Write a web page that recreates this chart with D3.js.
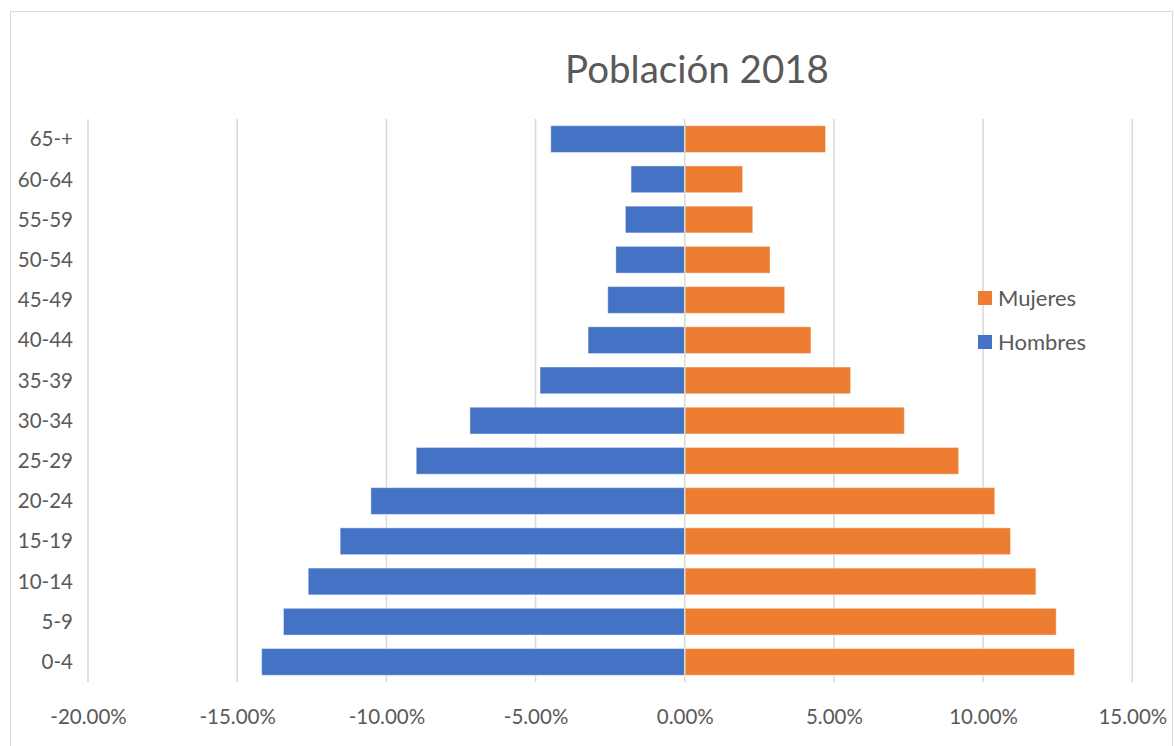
<!DOCTYPE html>
<html>
<head>
<meta charset="utf-8">
<script src="https://cdn.jsdelivr.net/npm/d3@7"></script>
<style>
  html, body { margin: 0; padding: 0; background: #fff; }
  svg { display: block; }
  text { font-family: Lato, "Open Sans", sans-serif; fill: #595959; }
</style>
</head>
<body>
<svg id="chart" width="1174" height="746"></svg>
<script>
const categories = ["0-4","5-9","10-14","15-19","20-24","25-29","30-34","35-39","40-44","45-49","50-54","55-59","60-64","65-+"];
const hombres = [-14.18,-13.45,-12.62,-11.55,-10.52,-9.0,-7.20,-4.85,-3.24,-2.58,-2.31,-1.99,-1.80,-4.49];
const mujeres = [13.06,12.45,11.77,10.92,10.39,9.18,7.36,5.56,4.23,3.35,2.86,2.28,1.94,4.72];
const xTicks = [-20,-15,-10,-5,0,5,10,15];
const title = "Población 2018";
const seriesNames = ["Mujeres","Hombres"];
const colors = {Hombres: "#4472C4", Mujeres: "#ED7D31"};

const svg = d3.select("#chart");

// chart border
svg.append("rect").attr("x", 10.5).attr("y", 11.5).attr("width", 1162).attr("height", 740)
  .attr("fill", "#fff").attr("stroke", "#d9d9d9").attr("stroke-width", 1);

const plotTop = 119, plotBottom = 682;
const x = d3.scaleLinear().domain([-20, 15]).range([88, 1132.3]);
const y = d3.scaleBand().domain(categories.slice().reverse()).range([plotTop, plotBottom])
  .paddingInner(0.334).paddingOuter(0.167);

// gridlines
svg.append("g").selectAll("line").data(xTicks.filter(d => d !== 0)).join("line")
  .attr("x1", d => x(d)).attr("x2", d => x(d))
  .attr("y1", plotTop).attr("y2", plotBottom)
  .attr("stroke", "#d9d9d9").attr("stroke-width", 1.5);

// bars
const rows = categories.map((c, i) => ({c, h: hombres[i], m: mujeres[i]}));
svg.append("g").selectAll("rect").data(rows).join("rect")
  .attr("x", d => x(d.h)).attr("width", d => x(0) - x(d.h))
  .attr("y", d => y(d.c)).attr("height", y.bandwidth())
  .attr("fill", colors.Hombres).attr("stroke", "rgba(255,255,255,0.45)").attr("stroke-width", 1);
svg.append("g").selectAll("rect").data(rows).join("rect")
  .attr("x", x(0)).attr("width", d => x(d.m) - x(0))
  .attr("y", d => y(d.c)).attr("height", y.bandwidth())
  .attr("fill", colors.Mujeres).attr("stroke", "rgba(255,255,255,0.45)").attr("stroke-width", 1);

// zero axis line
svg.append("line").attr("x1", x(0)).attr("x2", x(0)).attr("y1", plotTop).attr("y2", plotBottom)
  .attr("stroke", "#d9d9d9").attr("stroke-width", 1.5);

// x axis labels
const xAxis = d3.axisBottom(x).tickValues(xTicks).tickSize(0).tickPadding(0)
  .tickFormat(d => d.toFixed(2) + "%");
const gx = svg.append("g").attr("transform", `translate(0, 724)`).call(xAxis);
gx.select(".domain").remove();
gx.selectAll("text").attr("dy", 0).attr("font-size", 20.5).attr("fill", "#595959")
  .style("font-family", "Lato, 'Open Sans', sans-serif");

// y axis labels
const yAxis = d3.axisLeft(y).tickSize(0).tickPadding(0);
const gy = svg.append("g").attr("transform", `translate(73, 0)`).call(yAxis);
gy.select(".domain").remove();
gy.selectAll("text").attr("font-size", 20.5).attr("fill", "#595959").attr("dy", "0.35em")
  .style("font-family", "Lato, 'Open Sans', sans-serif");

// title
svg.append("text").attr("x", 697).attr("y", 83).attr("text-anchor", "middle")
  .attr("font-size", 38.5).text(title);

// legend
const lg = svg.append("g");
seriesNames.forEach((s, i) => {
  const yy = 291 + i * 44;
  lg.append("rect").attr("x", 978).attr("y", yy).attr("width", 14).attr("height", 14).attr("fill", colors[s]);
  lg.append("text").attr("x", 998).attr("y", yy + 7).attr("dy", "0.36em").attr("font-size", 22).text(s);
});
</script>
</body>
</html>
